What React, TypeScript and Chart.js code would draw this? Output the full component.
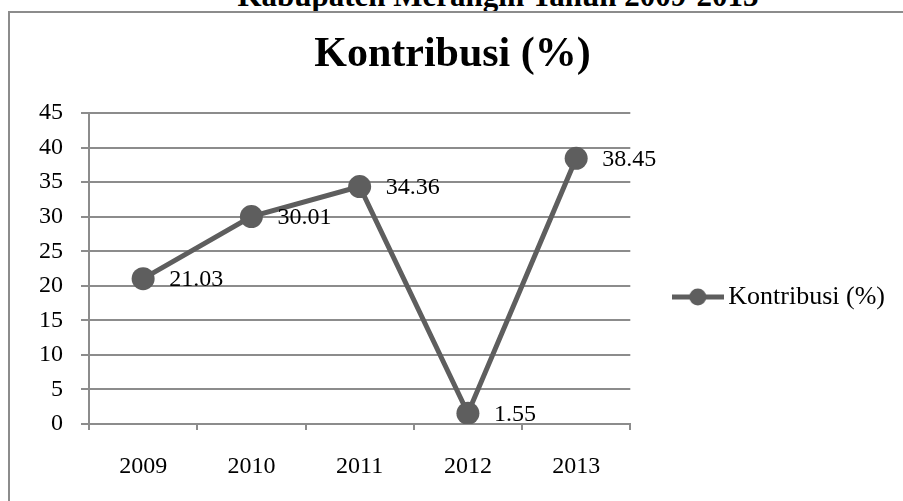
import React, { useEffect, useRef } from 'react';
import { Chart, registerables } from 'chart.js';

Chart.register(...registerables);

const pageTitle = 'Kabupaten Merangin Tahun 2009-2013';
const chartTitle = 'Kontribusi (%)';
const seriesName = 'Kontribusi (%)';
const categories = ['2009', '2010', '2011', '2012', '2013'];
const kontribusi = [21.03, 30.01, 34.36, 1.55, 38.45];
const yMin = 0;
const yMax = 45;
const yStep = 5;

const SERIF = "'Liberation Serif', 'Times New Roman', Times, serif";
const LINE = '#5e5e5e';
const GRID = '#8c8c8c';

const dataLabels = {
  id: 'dataLabels',
  afterDatasetsDraw(chart: any) {
    const ctx = chart.ctx;
    chart.data.datasets.forEach((ds: any, i: number) => {
      const meta = chart.getDatasetMeta(i);
      meta.data.forEach((pt: any, j: number) => {
        const v = ds.data[j] as number;
        ctx.save();
        ctx.font = `24px ${SERIF}`;
        ctx.fillStyle = '#000';
        ctx.textAlign = 'left';
        ctx.textBaseline = 'middle';
        ctx.fillText(v.toFixed(2), pt.x + 26, pt.y + 1);
        ctx.restore();
      });
    });
  },
};

export default function App() {
  const ref = useRef<HTMLCanvasElement | null>(null);

  useEffect(() => {
    if (!ref.current) return;
    const img = document.createElement('canvas');
    img.width = 52;
    img.height = 20;
    const c = img.getContext('2d')!;
    c.strokeStyle = LINE;
    c.lineWidth = 5;
    c.beginPath();
    c.moveTo(0, 10);
    c.lineTo(52, 10);
    c.stroke();
    c.fillStyle = LINE;
    c.beginPath();
    c.arc(26, 10, 8.5, 0, Math.PI * 2);
    c.fill();

    const chart = new Chart(ref.current, {
      type: 'line',
      data: {
        labels: categories,
        datasets: [
          {
            label: seriesName,
            data: kontribusi,
            borderColor: LINE,
            backgroundColor: LINE,
            borderWidth: 5,
            pointRadius: 11.5,
            pointBorderWidth: 0,
            pointBackgroundColor: LINE,
            pointStyle: 'circle',
            tension: 0,
          },
        ],
      },
      plugins: [dataLabels],
      options: {
        responsive: false,
        animation: false,
        devicePixelRatio: 1,
        layout: { padding: { left: 0, right: 8, top: 0, bottom: 0 } },
        plugins: {
          tooltip: { enabled: false },
          title: {
            display: true,
            text: chartTitle,
            color: '#000',
            font: { family: SERIF, size: 42, weight: 'bold', lineHeight: 1.2 },
            padding: { top: 17.3, bottom: 32.3 },
          },
          legend: {
            display: true,
            position: 'right',
            align: 'center',
            maxWidth: 320,
            labels: {
              usePointStyle: true,
              pointStyleWidth: 35,
              padding: 50,
              color: '#000',
              font: { family: SERIF, size: 26 },
              generateLabels: (ch: any) => {
                const items = (Chart.defaults.plugins.legend.labels as any).generateLabels(ch);
                return items.map((it: any) => ({ ...it, pointStyle: img }));
              },
            },
          },
        },
        scales: {
          x: {
            type: 'category',
            offset: true,
            afterFit: (s: any) => {
              s.height = 157;
            },
            grid: {
              display: true,
              offset: true,
              drawOnChartArea: false,
              drawTicks: true,
              tickLength: 6,
              color: GRID,
              lineWidth: 2,
            },
            border: { display: true, color: GRID, width: 2 },
            ticks: {
              color: '#000',
              padding: 22,
              maxRotation: 0,
              font: { family: SERIF, size: 24 },
            },
          },
          y: {
            min: yMin,
            max: yMax,
            afterFit: (s: any) => {
              s.width = 79;
            },
            grid: {
              display: true,
              drawTicks: true,
              tickLength: 8,
              color: GRID,
              lineWidth: 2,
            },
            border: { display: true, color: GRID, width: 2 },
            ticks: {
              stepSize: yStep,
              color: '#000',
              padding: 18,
              font: { family: SERIF, size: 24 },
            },
          },
        },
      } as any,
    });
    return () => chart.destroy();
  }, []);

  return (
    <div
      style={{
        position: 'fixed',
        left: 0,
        top: 0,
        width: 903,
        height: 501,
        overflow: 'hidden',
        background: '#fff',
      }}
    >
      <div
        style={{
          position: 'absolute',
          left: 0,
          top: -20.5,
          width: 996,
          textAlign: 'center',
          fontFamily: SERIF,
          fontWeight: 'bold',
          fontSize: 31,
          lineHeight: '31px',
          whiteSpace: 'nowrap',
          color: '#000',
        }}
      >
        {pageTitle}
      </div>
      <div
        style={{
          position: 'absolute',
          left: 8,
          top: 11,
          width: 940,
          height: 560,
          border: `2px solid ${GRID}`,
          boxSizing: 'border-box',
        }}
      />
      <canvas
        ref={ref}
        width={893}
        height={568}
        style={{ position: 'absolute', left: 10, top: 13, width: 893, height: 568 }}
      />
    </div>
  );
}
